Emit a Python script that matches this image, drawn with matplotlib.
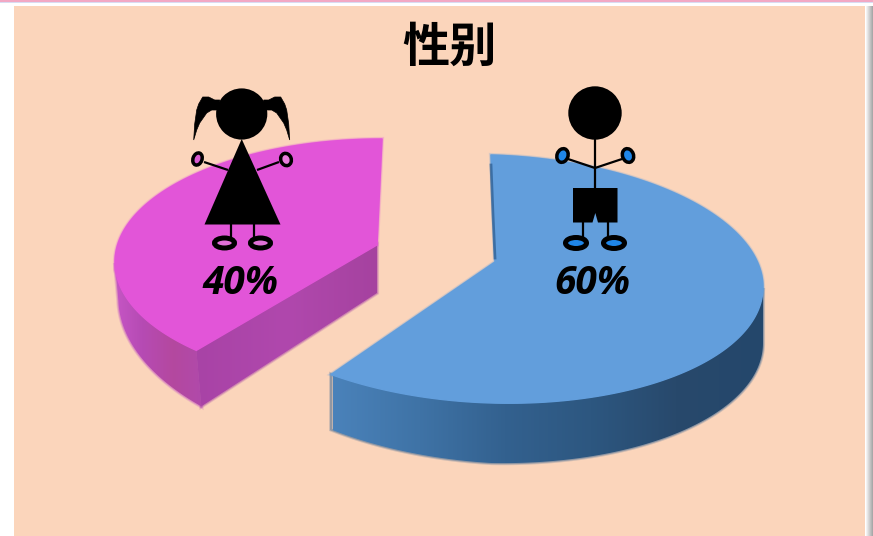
import numpy as np
import matplotlib
matplotlib.use("Agg")
import matplotlib.pyplot as plt
from matplotlib.patches import Polygon, Circle, Ellipse, Rectangle
from matplotlib.colors import LinearSegmentedColormap

# --- data
categories = ["女", "男"]
shares = [40, 60]
labels = ["40%", "60%"]
title = "性别"

W, H = 873, 536
fig = plt.figure(figsize=(W / 100, H / 100), dpi=100, facecolor="white")
ax = fig.add_axes([0, 0, 1, 1])
ax.set_axis_off()

PEACH = "#fbd5bb"
ax.add_patch(Rectangle((14, 6), 851, 530, fc=PEACH, ec="none", zorder=1))
ax.add_patch(Rectangle((0, 0), W, 1.5, fc="#f2a8c4", ec="none", zorder=1))
ax.add_patch(Rectangle((0, 1.5), W, 1.5, fc="#d9dcf2", ec="none", zorder=1))
ax.imshow(np.linspace(1, 0.66, 8)[None, :], extent=(865, 873, 536, 6), cmap="gray",
          vmin=0, vmax=1, aspect="auto", zorder=1)


def rim(cx, cy, rx, ry, th, shear=0.0):
    t = np.radians(th)
    x = cx + rx * np.cos(t)
    return np.column_stack([x, cy - ry * np.sin(t) + shear * (x - cx)])


def gradient(poly, stops, x0, x1, z):
    cm = LinearSegmentedColormap.from_list("g", stops)
    im = ax.imshow(np.linspace(0, 1, 256)[None, :], extent=(x0, x1, 536, 0), cmap=cm,
                   aspect="auto", zorder=z)
    p = Polygon(poly, closed=True, fc="none", ec="none", transform=ax.transData)
    ax.add_patch(p)
    im.set_clip_path(p)


def soft(poly, color, z=2.5):
    # blurred rim of the slice: drawn below the faces, so only the outside shows
    for lw, a in [(3.0, 0.22), (1.6, 0.4)]:
        ax.add_patch(Polygon(poly, closed=True, fc="none", ec=color, lw=lw, alpha=a, zorder=z))


total = sum(shares)

# --- pink slice (40 %): runs counter-clockwise from 12 o'clock
sweep_f = 360 * shares[0] / total * 0.944
th = np.linspace(90, 90 + sweep_f, 160)
r = rim(382, 262, 267, 123, th)
apex_f = np.array([377, 245])
dep = np.linspace(0, 56, len(r))
low = r + np.column_stack([np.linspace(0, 5, len(r)), dep])
mask = th >= 180
wall = np.vstack([r[mask], low[mask][::-1]])
gradient(wall, ["#c958c8", "#b64bb4", "#b4489f", "#b04aac"], 110, 205, 3)
soft(wall, "#c050c0")
front = np.vstack([r[-1], apex_f, apex_f + [0, 48], low[-1]])
gradient(front, ["#a843a6", "#b048ad", "#a5429f"], 195, 380, 3)
soft(front, "#a843a6")
top = np.vstack([r, apex_f])
ax.add_patch(Polygon(top, closed=True, fc="#e255d8", ec="#e255d8", lw=1, zorder=4))
soft(top, "#e255d8")

# --- blue slice (60 %): runs clockwise from 12 o'clock
sweep_m = 360 * shares[1] / total
th = np.linspace(90, 90 - sweep_m, 240)
r = rim(491, 279, 272, 124, th, shear=0.03)
apex_m = np.array([495, 262])
low = r + np.column_stack([np.zeros(len(r)), np.interp(th, [-126, -90, 0], [55, 60, 56])])
mask = th <= 0
wall = np.vstack([r[mask], low[mask][::-1]])
gradient(wall, ["#4a82ba", "#3f73a6", "#33618f", "#2d5780", "#28496c", "#24476b"], 333, 763, 3)
soft(wall, "#33618f")
top = np.vstack([r, apex_m])
ax.add_patch(Polygon(top, closed=True, fc="#629edc", ec="#629edc", lw=1, zorder=4))
soft(top, "#629edc")
ax.plot([491, 493, 495], [165, 215, 258], color="#2f5f92", lw=2, alpha=0.75, zorder=4.2)


# --- pictograms
def line(xs, ys, lw=1.6):
    ax.plot(xs, ys, color="black", lw=lw, solid_capstyle="butt", zorder=6)


def ring(x, y, w, h, fill, angle=0, lw=2.5):
    ax.add_patch(Ellipse((x, y), w, h, angle=angle, fc=fill, ec="black", lw=lw, zorder=6))


# girl
gx = 241.7
ax.add_patch(Circle((gx, 114), 25.6, fc="black", ec="none", zorder=6))
tail = np.array([[-22, -14], [-27, -14], [-33, -17], [-39, -17], [-43, -10], [-45, -4], [-47, 10],
                 [-48, 26], [-45, 16], [-42, 9], [-35, -1], [-30, -4], [-22, -4]], float)
for sgn in (1, -1):
    ax.add_patch(Polygon(np.column_stack([gx + sgn * tail[:, 0], 114 + tail[:, 1]]),
                         closed=True, fc="black", ec="black", lw=0.5, zorder=6))
ax.add_patch(Polygon([[gx, 139], [204.5, 224.5], [280.5, 224.5]], closed=True, fc="black", ec="none", zorder=6))
line([204, 228], [162, 170])
line([279, 257], [162, 170])
ring(197.5, 159, 9, 12.5, "#d95ad0", angle=20)
ring(286, 159.5, 10.5, 12.5, "#e87ddc", angle=-20)
line([231, 231], [224, 237])
line([254, 254], [224, 237])
ring(224.5, 243, 20, 10, "#e070d8", lw=3.6)
ring(260.5, 243, 20, 10, "#e070d8", lw=3.6)

# boy
ax.add_patch(Circle((595, 113), 26.7, fc="black", ec="none", zorder=6))
line([595.3, 595.3], [138, 190])
line([568, 595, 622], [159, 168, 159])
ring(562.5, 155.5, 11, 14, "#1f86e8", angle=20)
ring(628, 155.5, 11, 14, "#1f86e8", angle=-20)
ax.add_patch(Polygon([[573, 188], [617.5, 188], [617.5, 222.5], [598, 222.5], [595.3, 213],
                      [592.5, 222.5], [573, 222.5]], closed=True, fc="black", ec="none", zorder=6))
line([583, 583], [222, 237])
line([608, 608], [222, 237])
ring(576, 243, 21, 11, "#1f86e8", lw=3.6)
ring(614, 243, 21, 11, "#1f86e8", lw=3.6)

# --- text
ax.text(450, 48, title, family=["Noto Sans CJK SC", "DejaVu Sans"], fontweight="bold",
        fontsize=34, ha="center", va="center", color="black", zorder=7)
for x, lab in zip((240, 592), labels):
    ax.text(x, 284, lab, family="Open Sans", fontweight="bold", style="italic",
            fontsize=28, ha="center", va="center", color="black", zorder=7)

ax.set_xlim(0, W)
ax.set_ylim(H, 0)
fig.savefig("out.png", dpi=100, facecolor="white")
